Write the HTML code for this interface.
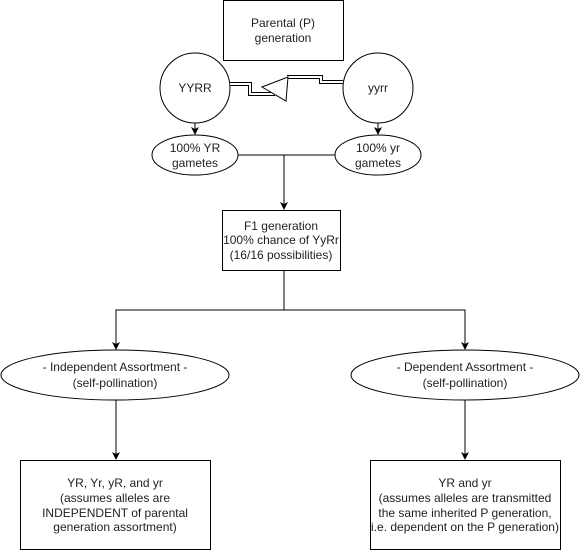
<!DOCTYPE html>
<html><head><style>
html,body{margin:0;padding:0;background:#fff;}
svg text{font-family:"Liberation Sans",Arial,sans-serif;font-size:12px;fill:#222;}
</style></head><body>
<svg width="581" height="551" viewBox="0 0 581 551" xmlns="http://www.w3.org/2000/svg">
<defs><marker id="a" markerWidth="8" markerHeight="8" refX="7" refY="4" orient="auto" markerUnits="userSpaceOnUse"><path d="M0,0 L8,4 L0,8 L2,4 Z" fill="#000"/></marker></defs>
<g fill="#fff" stroke="#000" stroke-width="1">
<rect x="223.5" y="0.5" width="120" height="60"/>
<circle cx="195" cy="88" r="35"/>
<circle cx="378" cy="88" r="35"/>
<ellipse cx="195" cy="155" rx="43" ry="20"/>
<ellipse cx="378" cy="155" rx="43" ry="20"/>
<rect x="222.5" y="210.5" width="118" height="60"/>
<ellipse cx="115" cy="375" rx="114" ry="25"/>
<ellipse cx="465" cy="375" rx="114" ry="25"/>
<rect x="20.5" y="460.5" width="190" height="89"/>
<rect x="370.5" y="460.5" width="190" height="89"/>
</g>
<g fill="none" stroke="#000">
<path d="M230,84 H250 V94 H275" stroke-width="4"/>
<path d="M230,84 H250 V94 H275" stroke="#fff" stroke-width="2"/>
<path d="M287,77 H321 V82 H343" stroke-width="4"/>
<path d="M287,77 H321 V82 H343" stroke="#fff" stroke-width="2"/>
<path d="M262,87 L288,77 L286,101 Z" fill="#fff"/>
<path d="M195,123 V134" marker-end="url(#a)"/>
<path d="M378,123 V134" marker-end="url(#a)"/>
<path d="M238,155 H335 M284,155 V209" />
<path d="M284,195 V209" marker-end="url(#a)"/>
<path d="M284,270 V310 H116 V349 M284,310 H465 V349"/>
<path d="M116,340 V349" marker-end="url(#a)"/>
<path d="M465,340 V349" marker-end="url(#a)"/>
<path d="M116,400 V459" marker-end="url(#a)"/>
<path d="M465,400 V459" marker-end="url(#a)"/>
</g>
<g text-anchor="middle">
<text x="283" y="27">Parental (P)</text><text x="283" y="42">generation</text>
<text x="195" y="92">YYRR</text>
<text x="378" y="92">yyrr</text>
<text x="195" y="152">100% YR</text><text x="195" y="167">gametes</text>
<text x="378" y="152">100% yr</text><text x="378" y="167">gametes</text>
<text x="281" y="230">F1 generation</text><text x="281" y="244">100% chance of YyRr</text><text x="281" y="259">(16/16 possibilities)</text>
<text x="115" y="371">- Independent Assortment -</text><text x="115" y="387">(self-pollination)</text>
<text x="465" y="371">- Dependent Assortment -</text><text x="465" y="387">(self-pollination)</text>
<text x="115" y="487">YR, Yr, yR, and yr</text><text x="115" y="502">(assumes alleles are</text><text x="115" y="517">INDEPENDENT of parental</text><text x="115" y="531">generation assortment)</text>
<text x="465" y="487">YR and yr</text><text x="465" y="502">(assumes alleles are transmitted</text><text x="465" y="517">the same inherited P generation,</text><text x="465" y="531">i.e. dependent on the P generation)</text>
</g>
</svg>
</body></html>
